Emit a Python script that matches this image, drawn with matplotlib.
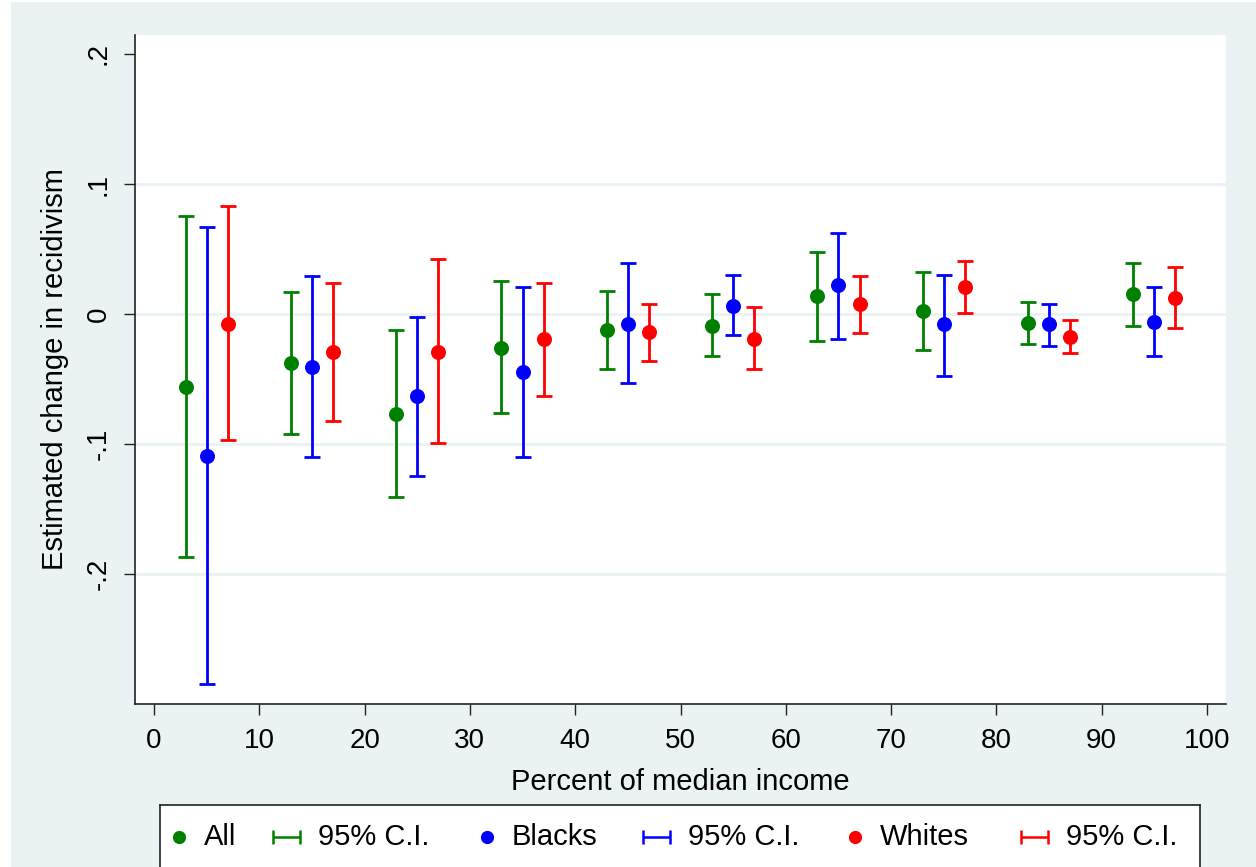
import numpy as np
import matplotlib.pyplot as plt
import matplotlib.patches as mpatches

W, H = 1256, 867
BG = '#EAF2F3'

# Percent of median income positions (bins of 10, groups offset inside each bin)
x_all = [3, 13, 23, 33, 43, 53, 63, 73, 83, 93]
x_blacks = [5, 15, 25, 35, 45, 55, 65, 75, 85, 95]
x_whites = [7, 17, 27, 37, 47, 57, 67, 77, 87, 97]

# Point estimates and 95% C.I.
all_est = [-0.056, -0.038, -0.077, -0.026, -0.012, -0.009, 0.014, 0.002, -0.007, 0.015]
all_hi = [0.075, 0.017, -0.012, 0.025, 0.018, 0.015, 0.048, 0.032, 0.009, 0.039]
all_lo = [-0.187, -0.092, -0.141, -0.076, -0.042, -0.032, -0.021, -0.028, -0.023, -0.009]

blacks_est = [-0.109, -0.041, -0.063, -0.045, -0.008, 0.006, 0.022, -0.008, -0.008, -0.006]
blacks_hi = [0.067, 0.029, -0.002, 0.021, 0.039, 0.030, 0.062, 0.030, 0.008, 0.021]
blacks_lo = [-0.285, -0.110, -0.125, -0.110, -0.053, -0.016, -0.019, -0.048, -0.025, -0.032]

whites_est = [-0.008, -0.029, -0.029, -0.019, -0.014, -0.019, 0.008, 0.021, -0.018, 0.012]
whites_hi = [0.083, 0.024, 0.042, 0.024, 0.008, 0.005, 0.029, 0.041, -0.005, 0.036]
whites_lo = [-0.097, -0.082, -0.099, -0.063, -0.036, -0.042, -0.015, 0.001, -0.030, -0.011]

x_ticks = list(range(0, 101, 10))
y_ticks = [-0.2, -0.1, 0, 0.1, 0.2]
y_ticklabels = ['-.2', '-.1', '0', '.1', '.2']
grid_ticks = [-0.2, -0.1, 0, 0.1]

series = [
    ('All', x_all, all_est, all_lo, all_hi, '#008000'),
    ('Blacks', x_blacks, blacks_est, blacks_lo, blacks_hi, '#0000FF'),
    ('Whites', x_whites, whites_est, whites_lo, whites_hi, '#FF0000'),
]

plt.rcParams['font.family'] = ['Liberation Sans', 'DejaVu Sans']

fig = plt.figure(figsize=(W / 100, H / 100), dpi=100)
fig.patch.set_facecolor(BG)
# thin white strips on the left and top edges of the screenshot
fig.patches.append(mpatches.Rectangle((0, 0), 11 / W, 1, transform=fig.transFigure,
                                      facecolor='white', edgecolor='none', zorder=-1))
fig.patches.append(mpatches.Rectangle((0, 1 - 2 / H), 1, 2 / H, transform=fig.transFigure,
                                      facecolor='white', edgecolor='none', zorder=-1))

ax = fig.add_axes([135 / W, 1 - 704 / H, 1091 / W, 669 / H])
ax.set_facecolor('white')
ax.set_xlim(-1.8, 101.8)
ax.set_ylim(-0.300, 0.2146)

for g in grid_ticks:
    ax.axhline(g, color=BG, lw=2, zorder=0)

for name, xs, est, lo, hi, col in series:
    est = np.array(est)
    yerr = [est - np.array(lo), np.array(hi) - est]
    # confidence interval caps
    ax.errorbar(xs, est, yerr=yerr, fmt='none', ecolor=col,
                elinewidth=2, capsize=5.8, capthick=2, zorder=3)
    # point estimates
    ax.plot(xs, est, 'o', color=col, ms=10.8, mew=0, zorder=4)

for s in ['top', 'right']:
    ax.spines[s].set_visible(False)
for s in ['left', 'bottom']:
    ax.spines[s].set_color('#222222')
    ax.spines[s].set_linewidth(1.2)

ax.set_xticks(x_ticks)
ax.set_yticks(y_ticks)
ax.set_yticklabels(y_ticklabels, rotation=90, va='center')
ax.tick_params(axis='both', length=8, width=1, color='#222222', labelsize=20)
ax.tick_params(axis='x', pad=9)
ax.tick_params(axis='y', pad=9)

ax.set_xlabel('Percent of median income', fontsize=21, labelpad=10)
ax.set_ylabel('Estimated change in recidivism', fontsize=21, labelpad=12)

# legend box (bottom edge runs off the image)
lax = fig.add_axes([160 / W, 1 - 880 / H, 1040 / W, 75 / H])
lax.set_xlim(160, 1200)
lax.set_ylim(880, 805)
lax.set_xticks([])
lax.set_yticks([])
lax.set_facecolor('white')
for s in lax.spines.values():
    s.set_color('#222222')
    s.set_linewidth(1.2)

ly = 837
dot_x = [179, 487, 855]
dot_text_x = [204, 512, 880]
ci_x = [286.5, 656, 1034]
ci_text_x = [318, 688, 1066]
for i, (name, xs, est, lo, hi, col) in enumerate(series):
    lax.plot([dot_x[i]], [ly], 'o', color=col, ms=9.5, mew=0)
    lax.text(dot_text_x[i], ly, name, fontsize=21, va='center', ha='left')
    lax.errorbar([ci_x[i]], [ly], xerr=[[13.5], [13.5]], fmt='none', ecolor=col,
                 elinewidth=1.8, capsize=4.7, capthick=1.8)
    lax.text(ci_text_x[i], ly, '95% C.I.', fontsize=21, va='center', ha='left')

fig.savefig('out.png', dpi=100, facecolor=fig.get_facecolor())
